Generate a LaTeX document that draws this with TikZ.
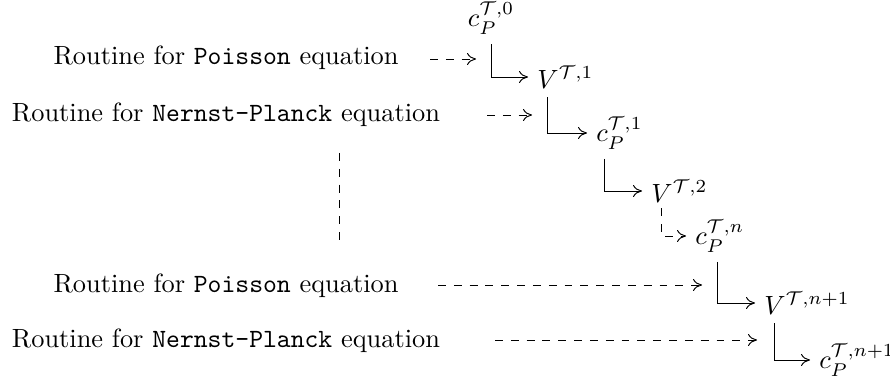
\documentclass[tikz,border=0pt]{standalone}
\usetikzlibrary{calc,arrows.meta}
\begin{document}
\begin{tikzpicture}[x=0.37922pt,y=-0.37922pt,
  line width=0.36pt,
  >={Computer Modern Rightarrow[length=3.4pt,width=4.6pt]},
  lbl/.style={anchor=base},
  val/.style={anchor=west},
  flow/.style={->},
  feed/.style={->,dashed}]
\useasboundingbox (0,0) rectangle (890,383);
% routine labels
\node[lbl] (r1) at (226,65) {Routine for \texttt{Poisson} equation};
\node[lbl] (r2) at (226,121) {Routine for \texttt{Nernst-Planck} equation};
\node[lbl] (r3) at (226,292) {Routine for \texttt{Poisson} equation};
\node[lbl] (r4) at (226,347) {Routine for \texttt{Nernst-Planck} equation};
% values
\node[anchor=base] (c0) at (491,27) {$c_P^{\mathcal{T},0}$};
\node[val] (V1) at (528,77) {$V^{\mathcal{T},1}$};
\node[val] (c1) at (587,133) {$c_P^{\mathcal{T},1}$};
\node[val] (V2) at (642,191) {$V^{\mathcal{T},2}$};
\node[val] (cn) at (686,236) {$c_P^{\mathcal{T},n}$};
\node[val] (Vn) at (755,303) {$V^{\mathcal{T},n+1}$};
\node[val] (cn1) at (810,360) {$c_P^{\mathcal{T},n+1}$};
% elbows
\draw[flow] (c0.south) |- (V1.west);
\draw[flow] ($(V1.south west)+(19,0)$) |- (c1.west);
\draw[flow] ($(c1.south west)+(17,0)$) |- (V2.west);
\draw[feed] ($(V2.south west)+(19,-3)$) |- (cn.west);
\draw[flow] ($(cn.south west)+(31,0)$) |- (Vn.west);
\draw[flow] ($(Vn.south west)+(19,0)$) |- (cn1.west);
% routine feeds
\coordinate (a1) at (430,59);  \coordinate (b1) at (476,59);
\coordinate (a2) at (487,115); \coordinate (b2) at (532,115);
\coordinate (a3) at (438,285); \coordinate (b3) at (702,285);
\coordinate (a4) at (495,340); \coordinate (b4) at (757,340);
\draw[feed] (a1) -- (b1);
\draw[feed] (a2) -- (b2);
\draw[feed] (a3) -- (b3);
\draw[feed] (a4) -- (b4);
% ellipsis
\coordinate (d1) at (339,153); \coordinate (d2) at (339,240);
\draw[dashed] (d1) -- (d2);
\end{tikzpicture}
\end{document}
